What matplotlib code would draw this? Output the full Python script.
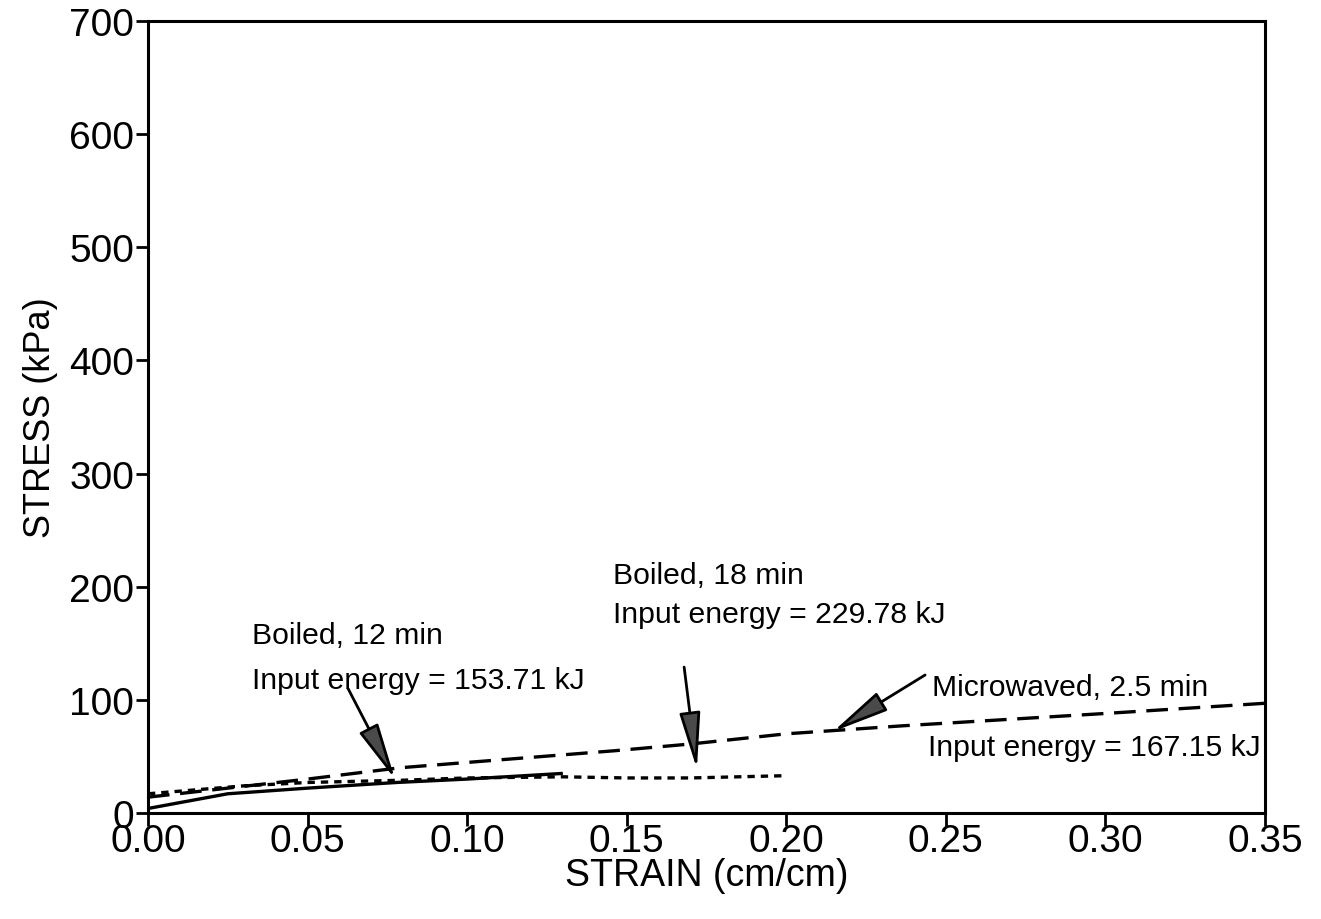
import matplotlib
matplotlib.use('Agg')
import matplotlib.pyplot as plt

plt.rcParams['font.family'] = ['Liberation Sans', 'DejaVu Sans']

# Boiled 12 min (solid)
strain_b12 = [0.0, 0.025, 0.05, 0.078, 0.10, 0.13]
stress_b12 = [4, 17, 22, 27, 30, 35]

# Boiled 18 min (dotted)
strain_b18 = [0.0, 0.03, 0.05, 0.08, 0.10, 0.13, 0.15, 0.17, 0.20]
stress_b18 = [17, 24, 27, 29, 31, 32, 31, 31, 33]

# Microwaved 2.5 min (dashed)
strain_mw = [0.0, 0.05, 0.079, 0.146, 0.17, 0.20, 0.236, 0.30, 0.35]
stress_mw = [14, 30, 40, 55, 61, 70, 77, 88, 97]

xticks = [0.00, 0.05, 0.10, 0.15, 0.20, 0.25, 0.30, 0.35]
yticks = [0, 100, 200, 300, 400, 500, 600, 700]

fig = plt.figure(figsize=(13.21, 9.2), dpi=100)
ax = fig.add_axes([0.112, 0.1152, 0.8456, 0.8608])

ax.plot(strain_b12, stress_b12, color='black', lw=2.4, solid_capstyle='butt')
ax.plot(strain_b18, stress_b18, color='black', lw=2.4, linestyle=(0, (2.2, 1.8)))
ax.plot(strain_mw, stress_mw, color='black', lw=2.4, linestyle=(0, (6.5, 3.2)))

arrow = dict(arrowstyle='-|>,head_length=3.5,head_width=0.65', color='black',
             fc='#4a4a4a', lw=2, shrinkA=0, shrinkB=0)
ax.annotate('', xy=(0.0774, 30), xytext=(0.0627, 110), arrowprops=arrow)
ax.annotate('', xy=(0.172, 39), xytext=(0.168, 129), arrowprops=arrow)
ax.annotate('', xy=(0.2147, 72), xytext=(0.2435, 122), arrowprops=arrow)

fs = 21.7
ax.text(0.0326, 157, 'Boiled, 12 min', fontsize=fs, va='center')
ax.text(0.0326, 118, 'Input energy = 153.71 kJ', fontsize=fs, va='center')
ax.text(0.1457, 210, 'Boiled, 18 min', fontsize=fs, va='center')
ax.text(0.1457, 176, 'Input energy = 229.78 kJ', fontsize=fs, va='center')
ax.text(0.2457, 111, 'Microwaved, 2.5 min', fontsize=fs, va='center')
ax.text(0.2445, 58, 'Input energy = 167.15 kJ', fontsize=fs, va='center')

ax.set_xlim(0, 0.35)
ax.set_ylim(0, 700)
ax.set_xticks(xticks)
ax.set_xticklabels([f'{v:.2f}' for v in xticks])
ax.set_yticks(yticks)
ax.tick_params(direction='out', length=9, width=2, labelsize=28)
ax.tick_params(axis='x', pad=-2)
ax.tick_params(axis='y', pad=1)
for s in ax.spines.values():
    s.set_linewidth(2.2)

ax.set_xlabel('STRAIN (cm/cm)', fontsize=27, labelpad=-1)
ax.set_ylabel('STRESS (kPa)', fontsize=26, labelpad=8)

fig.savefig('out.png', dpi=100)
